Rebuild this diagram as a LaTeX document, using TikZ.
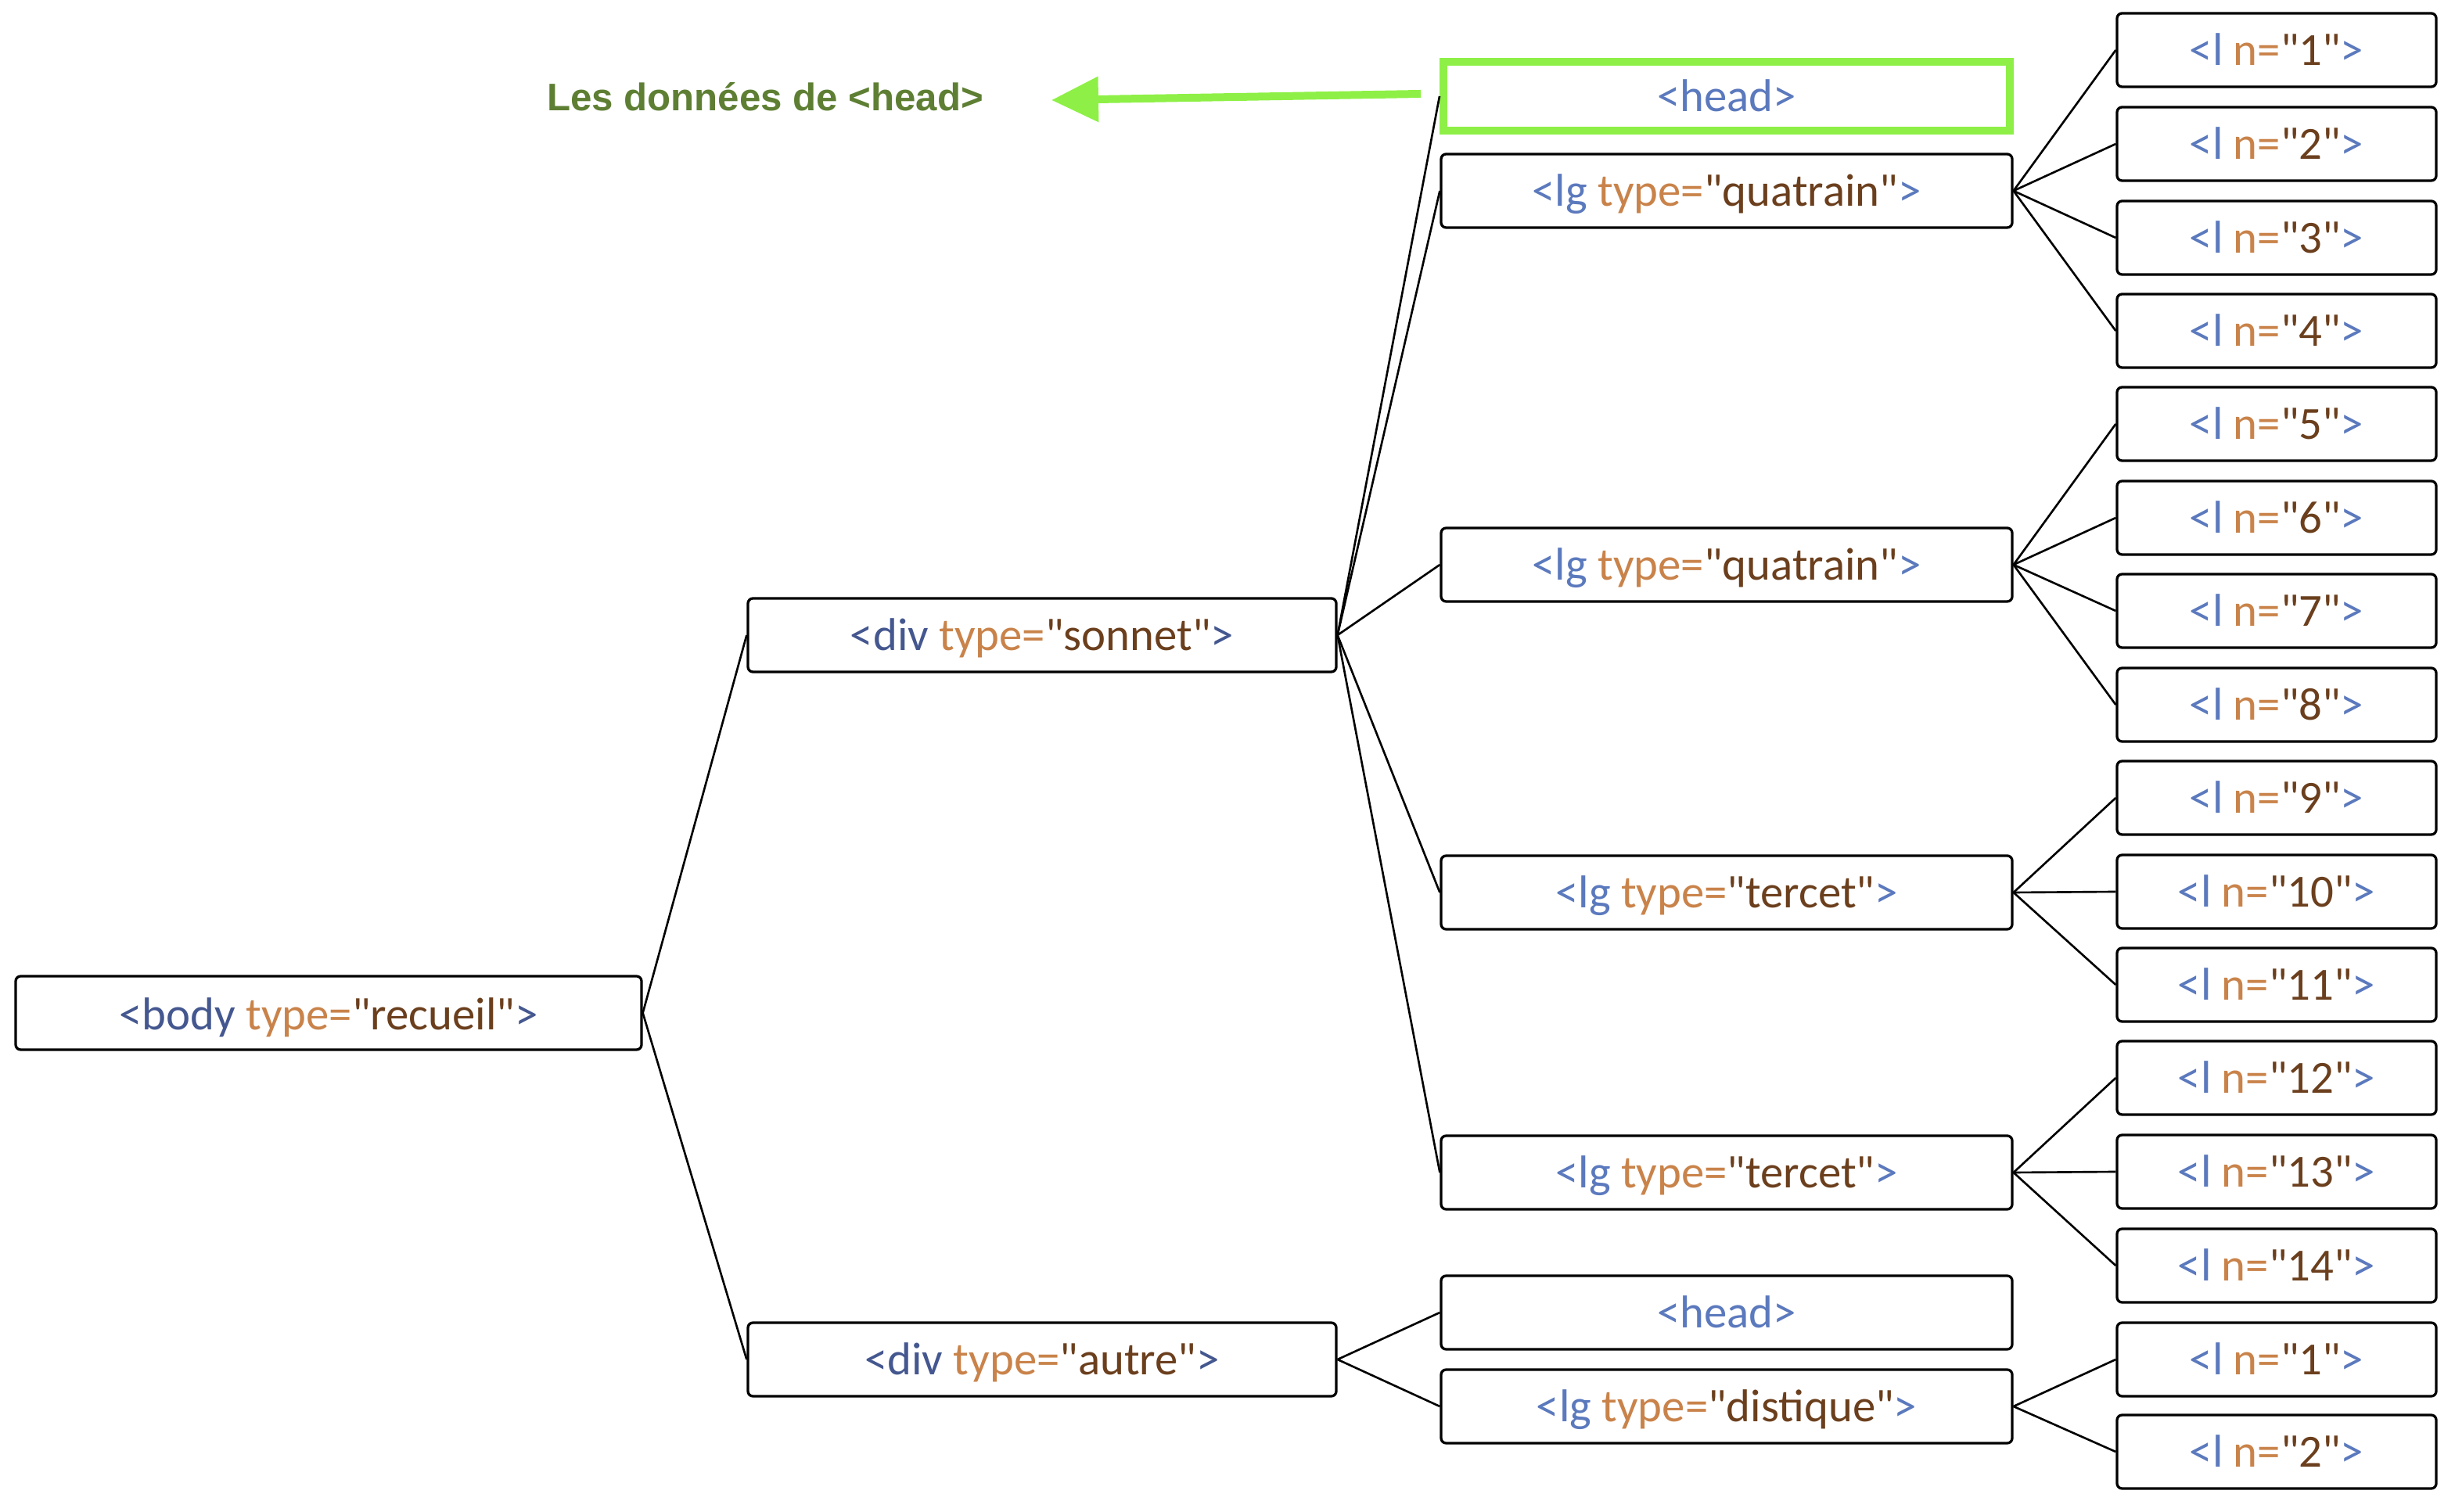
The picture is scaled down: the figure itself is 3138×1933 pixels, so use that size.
\documentclass[tikz,border=0pt]{standalone}
\usepackage{fontspec}
\newfontfamily\boxfont{Carlito}
\newfontfamily\labfont{Liberation Sans}
\usetikzlibrary{arrows.meta,calc}
\definecolor{tagA}{HTML}{44578F}
\definecolor{tagB}{HTML}{5B79BD}
\definecolor{attrc}{HTML}{C9834A}
\definecolor{valc}{HTML}{6B3F1D}
\definecolor{hlc}{HTML}{8EF046}
\definecolor{labc}{HTML}{5E7F33}
\newcommand{\xta}[1]{\textcolor{tagA}{#1}}
\newcommand{\xtb}[1]{\textcolor{tagB}{#1}}
\newcommand{\xat}[1]{\textcolor{attrc}{#1}}
\newcommand{\xvl}[1]{\textcolor{valc}{#1}}
\newcommand{\lgtag}[1]{\xtb{<lg} \xat{type=}\xvl{"#1"}\xtb{>}}
\newcommand{\ltag}[1]{\xtb{<l} \xat{n=}\xvl{"#1"}\xtb{>}}
\begin{document}
\begin{tikzpicture}[x=0.25pt,y=-0.25pt,
  txt/.style={inner sep=0pt, text height=12.4pt, text depth=2.6pt, font=\boxfont\fontsize{14.7}{17}\selectfont},
  box/.style={txt, draw, line width=0.82pt, rounded corners=1.6pt, minimum height=23.5pt, fill=white},
  b1/.style={box, minimum width=200pt, text height=13.2pt},
  b2/.style={box, minimum width=188pt},
  b3/.style={box, minimum width=182.5pt},
  b4/.style={box, minimum width=102pt},
  hbox/.style={txt, draw=hlc, line width=2.5pt, minimum width=181pt, minimum height=22pt, fill=white},
  link/.style={line width=0.66pt}]
\useasboundingbox (0,0) rectangle (3138,1933);
% level 1
\node[b1] (body) at (420,1295) {\xta{<body} \xat{type=}\xvl{"recueil"}\xta{>}};
% level 2
\node[b2] (sonnet) at (1332,812) {\xta{<div} \xat{type=}\xvl{"sonnet"}\xta{>}};
\node[b2] (autre) at (1332,1738) {\xta{<div} \xat{type=}\xvl{"autre"}\xta{>}};
% level 3
\node[hbox] (head1) at (2207,123) {\xtb{<head>}};
\node[b3] (q1) at (2207,244) {\lgtag{quatrain}};
\node[b3] (q2) at (2207,722) {\lgtag{quatrain}};
\node[b3] (t1) at (2207,1141) {\lgtag{tercet}};
\node[b3] (t2) at (2207,1499) {\lgtag{tercet}};
\node[b3] (head2) at (2207,1678) {\xtb{<head>}};
\node[b3] (dist) at (2207,1798) {\lgtag{distique}};
% level 4
\node[b4] (l1) at (2910,64) {\ltag{1}};
\node[b4] (l2) at (2910,184) {\ltag{2}};
\node[b4] (l3) at (2910,304) {\ltag{3}};
\node[b4] (l4) at (2910,423) {\ltag{4}};
\node[b4] (l5) at (2910,542) {\ltag{5}};
\node[b4] (l6) at (2910,662) {\ltag{6}};
\node[b4] (l7) at (2910,781) {\ltag{7}};
\node[b4] (l8) at (2910,901) {\ltag{8}};
\node[b4] (l9) at (2910,1020) {\ltag{9}};
\node[b4] (l10) at (2910,1140) {\ltag{10}};
\node[b4] (l11) at (2910,1259) {\ltag{11}};
\node[b4] (l12) at (2910,1378) {\ltag{12}};
\node[b4] (l13) at (2910,1498) {\ltag{13}};
\node[b4] (l14) at (2910,1618) {\ltag{14}};
\node[b4] (m1) at (2910,1738) {\ltag{1}};
\node[b4] (m2) at (2910,1856) {\ltag{2}};
% label and arrow
\node[font=\labfont\bfseries\fontsize{12.3}{15}\selectfont, text=labc, inner sep=0pt] (label) at (978,124) {Les données de <head>};
\coordinate (arrS) at (1816,120);
\coordinate (arrE) at (1344,128);
\draw[hlc, line width=2.5pt, -{Triangle[length=15pt,width=14pt]}] (arrS) -- (arrE);
% links
\draw[link] (body.east) -- (sonnet.west);
\draw[link] (body.east) -- (autre.west);
\foreach \c in {head1,q1,q2,t1,t2} \draw[link] (sonnet.east) -- (\c.west);
\foreach \c in {head2,dist} \draw[link] (autre.east) -- (\c.west);
\foreach \c in {l1,l2,l3,l4} \draw[link] (q1.east) -- (\c.west);
\foreach \c in {l5,l6,l7,l8} \draw[link] (q2.east) -- (\c.west);
\foreach \c in {l9,l10,l11} \draw[link] (t1.east) -- (\c.west);
\foreach \c in {l12,l13,l14} \draw[link] (t2.east) -- (\c.west);
\foreach \c in {m1,m2} \draw[link] (dist.east) -- (\c.west);
\end{tikzpicture}
\end{document}
